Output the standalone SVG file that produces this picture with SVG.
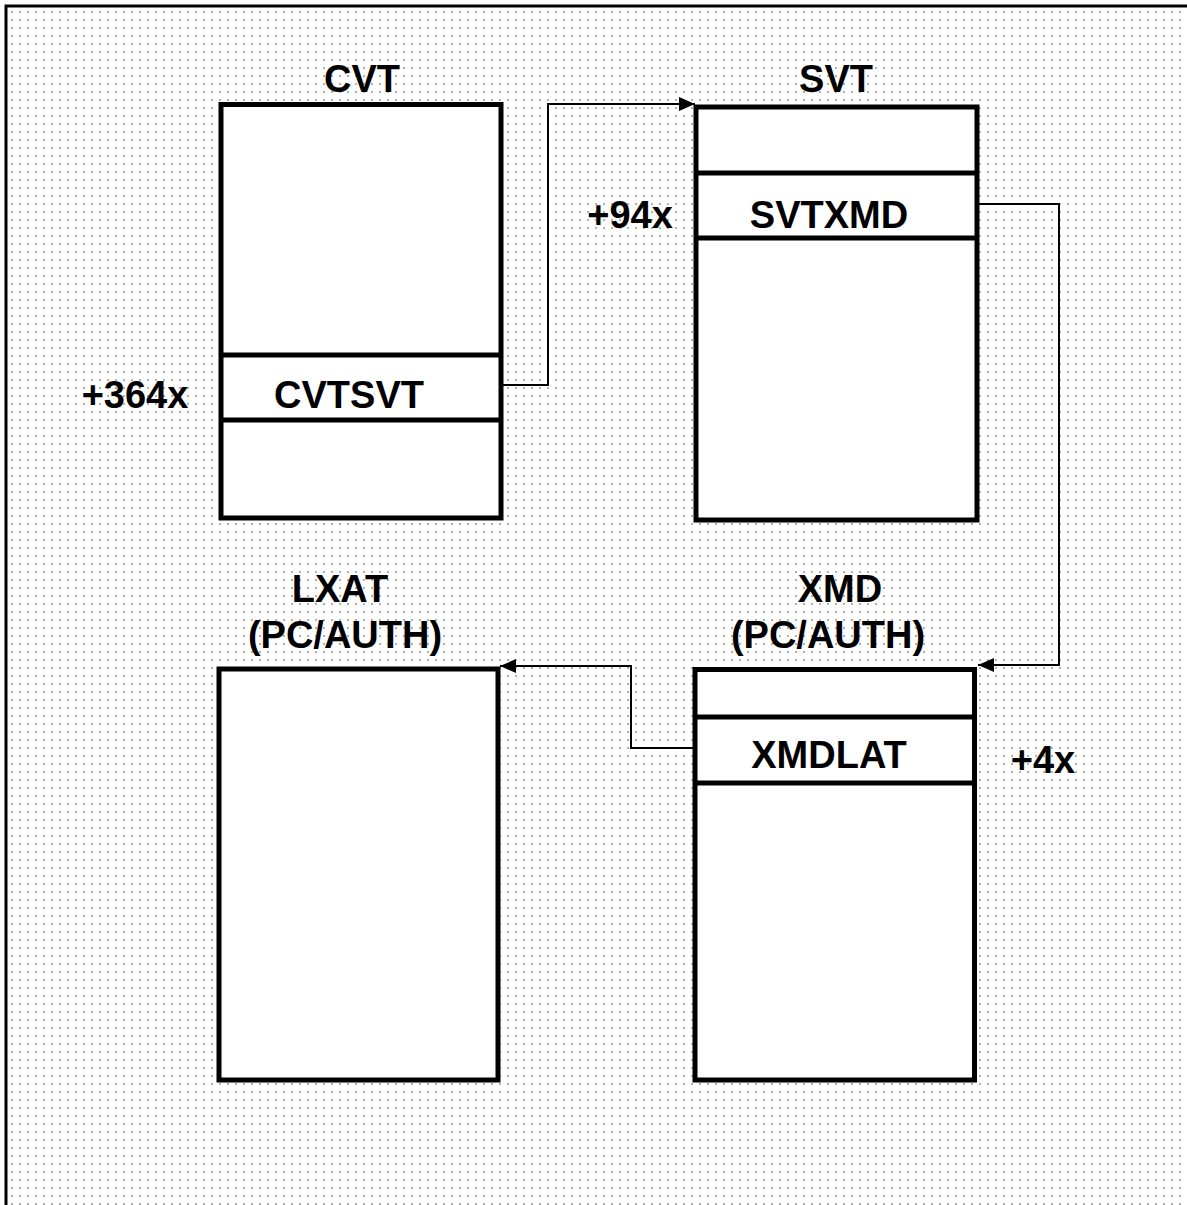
<svg xmlns="http://www.w3.org/2000/svg" width="1187" height="1205" viewBox="0 0 1187 1205">
<style>
.box{fill:#fff;stroke:#000;stroke-width:5}
.div{stroke:#000;stroke-width:5;fill:none}
.t{font-family:"Liberation Sans",Arial,sans-serif;font-weight:bold;font-size:38px;fill:#000;text-anchor:middle}
.c{fill:none;stroke:#000;stroke-width:2}
</style>
<defs>
<pattern id="dots" width="8" height="8" patternUnits="userSpaceOnUse">
<rect x="3" y="3" width="2" height="2" fill="#b0b0b0"/>
</pattern>
<marker id="ah" viewBox="0 0 16 14" refX="16" refY="7" markerWidth="16" markerHeight="14" markerUnits="userSpaceOnUse" orient="auto">
<path d="M0,0 L16,7 L0,14 z" fill="#000"/>
</marker>
</defs>
<rect x="0" y="0" width="1187" height="1205" fill="#fff"/>
<rect x="6" y="6" width="1181" height="1199" fill="url(#dots)"/>
<path d="M6,1205 V6 H1187" fill="none" stroke="#000" stroke-width="3"/>

<g id="cvt">
<text class="t" x="362" y="92">CVT</text>
<rect class="box" x="221" y="104.5" width="280" height="413.5"/>
<line class="div" x1="221" y1="355" x2="501" y2="355"/>
<line class="div" x1="221" y1="420" x2="501" y2="420"/>
<text class="t" x="349" y="408">CVTSVT</text>
<text class="t" x="135" y="408">+364x</text>
</g>

<g id="svt">
<text class="t" x="836" y="92">SVT</text>
<rect class="box" x="696" y="107" width="281" height="413"/>
<line class="div" x1="696" y1="173" x2="977" y2="173"/>
<line class="div" x1="696" y1="238" x2="977" y2="238"/>
<text class="t" x="829" y="228">SVTXMD</text>
<text class="t" x="630" y="228">+94x</text>
</g>

<g id="lxat">
<text class="t" x="340" y="602">LXAT</text>
<text class="t" x="345" y="648">(PC/AUTH)</text>
<rect class="box" x="219" y="669" width="279" height="411"/>
</g>

<g id="xmd">
<text class="t" x="840" y="602">XMD</text>
<text class="t" x="828" y="648">(PC/AUTH)</text>
<rect class="box" x="695" y="669.5" width="279.5" height="410.5"/>
<line class="div" x1="695" y1="717" x2="974.5" y2="717"/>
<line class="div" x1="695" y1="783" x2="974.5" y2="783"/>
<text class="t" x="829" y="768">XMDLAT</text>
<text class="t" x="1043" y="773">+4x</text>
</g>

<g id="connectors">
<path class="c" d="M501,385 H548 V104 H695" marker-end="url(#ah)"/>
<path class="c" d="M977,204 H1059 V665 H978" marker-end="url(#ah)"/>
<path class="c" d="M695,748 H631 V666 H500" marker-end="url(#ah)"/>
</g>
</svg>
